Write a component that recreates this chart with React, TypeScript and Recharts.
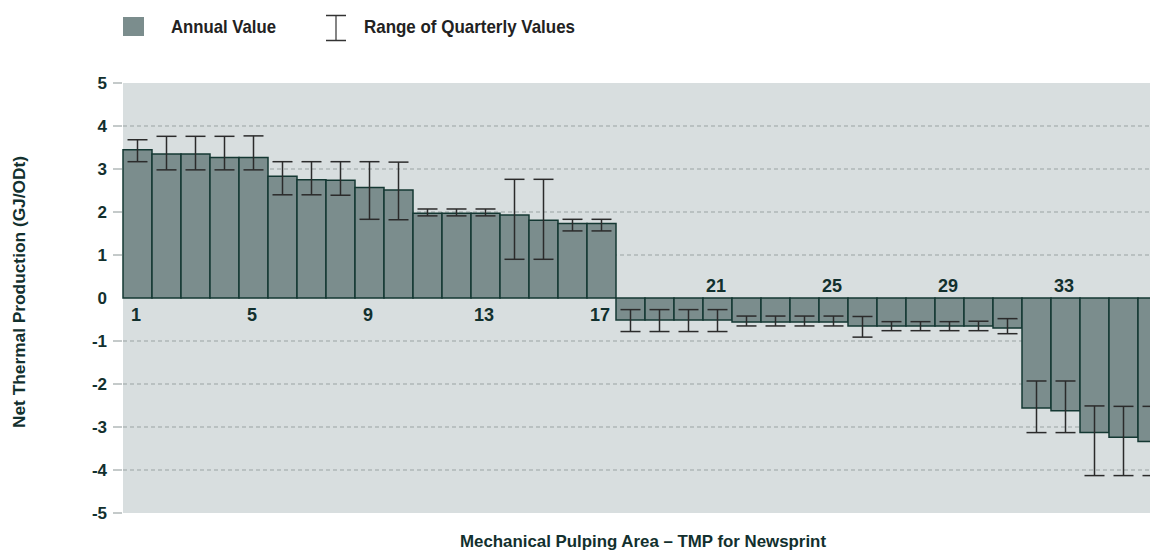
import { Bar, BarChart, CartesianGrid, ErrorBar, LabelList, XAxis, YAxis } from "recharts";

const categories = [
  1, 2, 3, 4, 5, 6, 7, 8, 9, 10, 11, 12, 13, 14, 15, 16, 17, 18,
  19, 20, 21, 22, 23, 24, 25, 26, 27, 28, 29, 30, 31, 32, 33, 34, 35, 36,
];

// annual net thermal production, GJ/ODt
const annualValues = [
  3.45, 3.35, 3.35, 3.27, 3.27, 2.83, 2.75, 2.74, 2.57, 2.51, 1.97, 1.97,
  1.97, 1.93, 1.81, 1.73, 1.73, -0.51, -0.51, -0.51, -0.51, -0.56, -0.56, -0.56,
  -0.56, -0.65, -0.65, -0.65, -0.65, -0.65, -0.7, -2.56, -2.62, -3.13, -3.24, -3.34,
];

const quarterMax = [
  3.68, 3.76, 3.76, 3.76, 3.77, 3.17, 3.17, 3.17, 3.17, 3.16, 2.07, 2.07,
  2.07, 2.76, 2.76, 1.83, 1.83, -0.27, -0.27, -0.27, -0.27, -0.42, -0.42, -0.42,
  -0.42, -0.43, -0.55, -0.55, -0.55, -0.54, -0.48, -1.93, -1.93, -2.51, -2.52, -2.52,
];

const quarterMin = [
  3.17, 2.98, 2.98, 2.98, 2.98, 2.4, 2.4, 2.39, 1.83, 1.82, 1.91, 1.91,
  1.91, 0.9, 0.9, 1.56, 1.56, -0.78, -0.78, -0.78, -0.78, -0.65, -0.65, -0.65,
  -0.65, -0.91, -0.76, -0.76, -0.76, -0.76, -0.83, -3.13, -3.13, -4.13, -4.13, -4.13,
];

const shownLabels = [1, 5, 9, 13, 17, 21, 25, 29, 33];
const yTicks = [-5, -4, -3, -2, -1, 0, 1, 2, 3, 4, 5];
const gridValues = [-4, -3, -2, -1, 1, 2, 3, 4];

const chartData = categories.map((cat, i) => ({
  cat,
  value: annualValues[i],
  err: [annualValues[i] - quarterMin[i], quarterMax[i] - annualValues[i]],
  label: shownLabels.includes(cat) ? String(cat) : "",
}));

const font = '"Liberation Sans", Arial, sans-serif';
const textColor = "#12302e";

function YTick(props: any) {
  const { x, y, payload } = props;
  return (
    <g>
      {payload.value !== 0 && (
        <line x1={x + 6} x2={x + 15} y1={y} y2={y} stroke="#8a9595" strokeWidth={1} />
      )}
      <text x={x} y={y} dy={6} textAnchor="end" fontFamily={font} fontWeight="bold" fontSize={17} fill={textColor}>
        {payload.value}
      </text>
    </g>
  );
}

function CatLabel(props: any) {
  const vb = props.viewBox ?? props;
  const { x, y, width, height } = vb;
  const { value, index } = props;
  if (!value) return null;
  const top = Math.min(y, y + height);
  const bottom = Math.max(y, y + height);
  const positive = annualValues[index] >= 0;
  const zero = positive ? bottom : top;
  return (
    <text
      x={x + width / 2 - 1.5}
      y={positive ? zero + 23 : zero - 6}
      textAnchor="middle"
      fontFamily={font}
      fontWeight="bold"
      fontSize={18}
      fill={textColor}
    >
      {value}
    </text>
  );
}

function YTitle(props: any) {
  const vb = props.viewBox;
  const cy = vb.y + vb.height / 2 - 6;
  return (
    <text
      x={19}
      y={cy}
      transform={`rotate(-90, 19, ${cy})`}
      textAnchor="middle"
      dominantBaseline="central"
      fontFamily={font}
      fontWeight="bold"
      fontSize={16}
      textLength={272}
      lengthAdjust="spacingAndGlyphs"
      fill={textColor}
    >
      Net Thermal Production (GJ/ODt)
    </text>
  );
}

function XTitle(props: any) {
  const vb = props.viewBox;
  return (
    <text
      x={vb.x + vb.width / 2 - 2}
      y={vb.y + 34}
      textAnchor="middle"
      fontFamily={font}
      fontWeight="bold"
      fontSize={17}
      textLength={366}
      lengthAdjust="spacingAndGlyphs"
      fill={textColor}
    >
      Mechanical Pulping Area – TMP for Newsprint
    </text>
  );
}

function LegendRow() {
  return (
    <svg style={{ position: "absolute", left: 0, top: 0 }} width={600} height={50}>
      <rect x={123} y={17} width={21} height={19} fill="#7b8d8d" />
      <text x={171} y={33} fontFamily={font} fontWeight="bold" fontSize={18.5} textLength={105} lengthAdjust="spacingAndGlyphs" fill="#222">
        Annual Value
      </text>
      <line x1={326} x2={346} y1={15.5} y2={15.5} stroke="#333" strokeWidth={1.5} />
      <line x1={336} x2={336} y1={15.5} y2={40.5} stroke="#333" strokeWidth={1.2} />
      <line x1={326} x2={346} y1={40.5} y2={40.5} stroke="#333" strokeWidth={1.5} />
      <text x={364} y={33} fontFamily={font} fontWeight="bold" fontSize={18.5} textLength={211} lengthAdjust="spacingAndGlyphs" fill="#222">
        Range of Quarterly Values
      </text>
    </svg>
  );
}

export default function App() {
  return (
    <div style={{ position: "fixed", left: 0, top: 0, width: 1150, height: 550, overflow: "hidden", background: "#fff" }}>
      <LegendRow />
      <div style={{ position: "absolute", left: 0, top: 0 }}>
        <BarChart
          width={1170}
          height={550}
          data={chartData}
          barCategoryGap={0}
          margin={{ top: 83, right: 3, bottom: 0, left: 0 }}
        >
          <CartesianGrid
            vertical={false}
            horizontalValues={gridValues}
            fill="#d8dedf"
            stroke="#9aa3a3"
            strokeDasharray="4 3"
          />
          <XAxis
            dataKey="cat"
            height={37}
            tick={false}
            tickLine={false}
            axisLine={false}
            label={<XTitle />}
          />
          <YAxis
            width={123}
            domain={[-5, 5]}
            ticks={yTicks}
            allowDataOverflow
            axisLine={false}
            tickLine={false}
            tickSize={9}
            tickMargin={7}
            tick={<YTick />}
            label={<YTitle />}
          />
          <Bar dataKey="value" fill="#7b8d8d" stroke="#143833" strokeWidth={1.5} isAnimationActive={false}>
            <ErrorBar dataKey="err" direction="y" width={10} stroke="#2b2b2b" strokeWidth={1.5} isAnimationActive={false} />
            <LabelList dataKey="label" content={<CatLabel />} />
          </Bar>
        </BarChart>
      </div>
    </div>
  );
}
